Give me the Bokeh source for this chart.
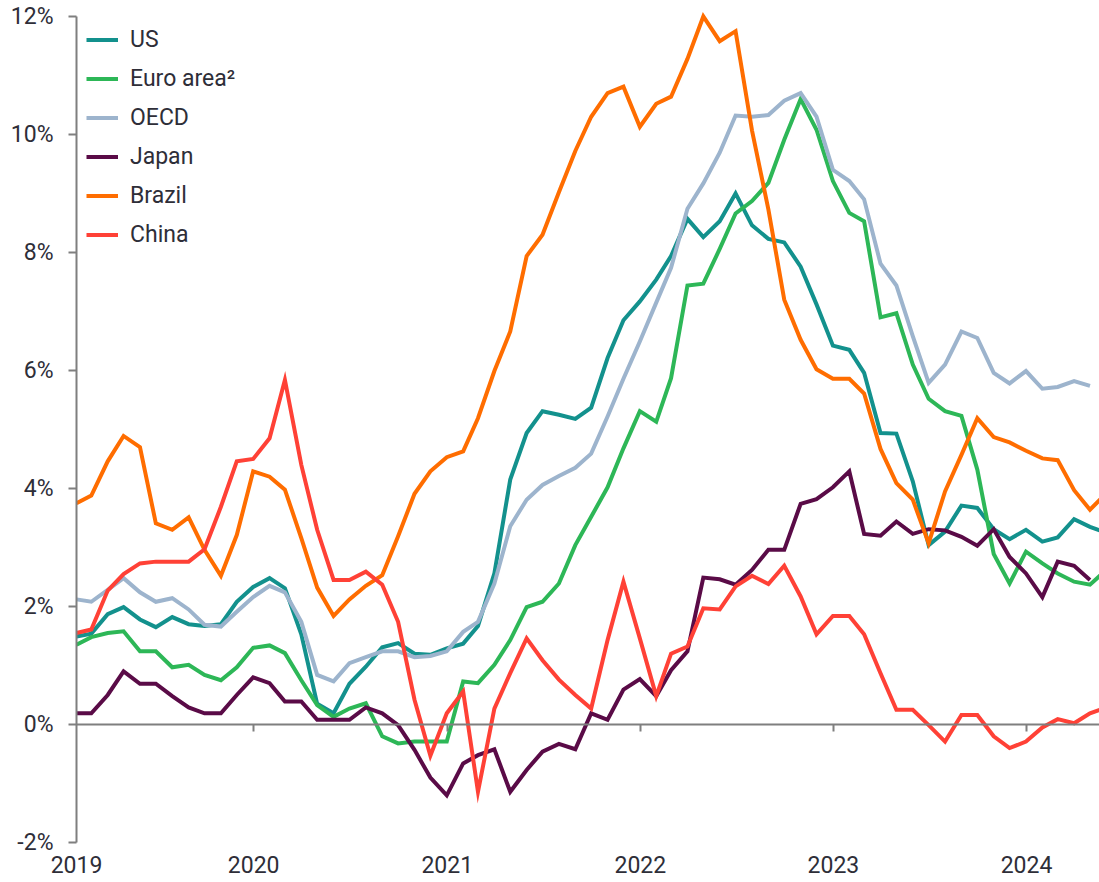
import pandas as pd
from bokeh.plotting import figure
from bokeh.models import Range1d, FixedTicker, LinearAxis, PrintfTickFormatter
from bokeh.embed import file_html
from bokeh.resources import INLINE

# Monthly observations (month-end), Jan 2019 .. May 2024
dates = pd.date_range("2019-01-31", periods=65, freq=pd.offsets.MonthEnd())
origin = pd.Timestamp("2019-01-01")
x_days = [(d - origin).days for d in dates]

us = [1.49, 1.54, 1.87, 1.99, 1.78, 1.65, 1.82, 1.70, 1.67, 1.70, 2.08, 2.33,
      2.48, 2.31, 1.53, 0.35, 0.19, 0.69, 0.98, 1.31, 1.38, 1.20, 1.18, 1.29,
      1.37, 1.67, 2.56, 4.15, 4.94, 5.31, 5.25, 5.18, 5.37, 6.21, 6.85, 7.17,
      7.54, 7.94, 8.57, 8.26, 8.53, 9.00, 8.46, 8.23, 8.17, 7.76, 7.12, 6.42,
      6.35, 5.96, 4.94, 4.93, 4.12, 3.04, 3.27, 3.71, 3.67, 3.31, 3.14, 3.30,
      3.10, 3.17, 3.48, 3.35, 3.25]
euro = [1.35, 1.48, 1.55, 1.58, 1.24, 1.24, 0.97, 1.01, 0.84, 0.75, 0.97, 1.30,
        1.34, 1.21, 0.75, 0.33, 0.13, 0.27, 0.36, -0.20, -0.32, -0.29, -0.29, -0.29,
        0.73, 0.70, 1.01, 1.43, 1.99, 2.08, 2.39, 3.04, 3.52, 4.02, 4.68, 5.31,
        5.13, 5.87, 7.44, 7.47, 8.06, 8.66, 8.87, 9.18, 9.91, 10.60, 10.08, 9.21,
        8.67, 8.53, 6.90, 6.97, 6.10, 5.52, 5.31, 5.23, 4.32, 2.89, 2.39, 2.93,
        2.73, 2.56, 2.42, 2.37, 2.62]
oecd = [2.12, 2.08, 2.28, 2.48, 2.24, 2.08, 2.14, 1.95, 1.69, 1.66, 1.91, 2.16,
        2.35, 2.24, 1.74, 0.84, 0.73, 1.04, 1.14, 1.24, 1.24, 1.14, 1.16, 1.24,
        1.57, 1.74, 2.39, 3.36, 3.81, 4.06, 4.21, 4.35, 4.59, 5.22, 5.86, 6.49,
        7.15, 7.74, 8.74, 9.17, 9.69, 10.32, 10.30, 10.33, 10.57, 10.70, 10.30, 9.40,
        9.21, 8.90, 7.81, 7.44, 6.58, 5.79, 6.10, 6.66, 6.55, 5.96, 5.78, 5.99,
        5.69, 5.72, 5.82, 5.74]
japan = [0.19, 0.19, 0.50, 0.90, 0.69, 0.69, 0.48, 0.29, 0.19, 0.19, 0.50, 0.80,
         0.70, 0.39, 0.39, 0.08, 0.08, 0.08, 0.29, 0.19, -0.01, -0.43, -0.90, -1.20,
         -0.66, -0.52, -0.42, -1.14, -0.77, -0.46, -0.33, -0.42, 0.19, 0.08, 0.59, 0.77,
         0.48, 0.92, 1.24, 2.49, 2.46, 2.37, 2.62, 2.96, 2.96, 3.74, 3.82, 4.02,
         4.29, 3.23, 3.20, 3.44, 3.23, 3.31, 3.29, 3.18, 3.03, 3.31, 2.84, 2.56,
         2.16, 2.76, 2.69, 2.45]
brazil = [3.75, 3.88, 4.46, 4.89, 4.70, 3.41, 3.30, 3.51, 2.96, 2.52, 3.21, 4.29,
          4.20, 3.98, 3.16, 2.32, 1.84, 2.12, 2.35, 2.53, 3.19, 3.91, 4.29, 4.53,
          4.63, 5.19, 5.99, 6.66, 7.94, 8.30, 9.02, 9.72, 10.30, 10.70, 10.81, 10.13,
          10.52, 10.64, 11.28, 12.00, 11.58, 11.75, 10.07, 8.73, 7.20, 6.52, 6.02, 5.86,
          5.86, 5.61, 4.67, 4.09, 3.81, 3.07, 3.95, 4.57, 5.19, 4.87, 4.78, 4.64,
          4.51, 4.48, 3.97, 3.64, 3.92]
china = [1.55, 1.61, 2.27, 2.55, 2.73, 2.76, 2.76, 2.76, 2.97, 3.69, 4.46, 4.50,
         4.85, 5.84, 4.40, 3.30, 2.45, 2.45, 2.59, 2.37, 1.74, 0.42, -0.53, 0.19,
         0.56, -1.14, 0.27, 0.87, 1.46, 1.09, 0.76, 0.50, 0.27, 1.43, 2.42, 1.46,
         0.48, 1.20, 1.32, 1.97, 1.95, 2.34, 2.52, 2.38, 2.69, 2.17, 1.53, 1.84,
         1.84, 1.53, 0.87, 0.25, 0.25, -0.01, -0.29, 0.16, 0.16, -0.20, -0.40, -0.29,
         -0.05, 0.09, 0.02, 0.19, 0.29]

series_names = ["US", "Euro area\u00b2", "OECD", "Japan", "Brazil", "China"]
series_values = [us, euro, oecd, japan, brazil, china]
series_colors = ["#13918d", "#2db757", "#9db4cd", "#5a0b47", "#ff6d00", "#ff4136"]

tick_dates = ["2019-01-31", "2020-01-01", "2021-01-01", "2022-01-01", "2023-01-01", "2024-01-01"]
tick_labels = ["2019", "2020", "2021", "2022", "2023", "2024"]
tick_pos = [(pd.Timestamp(t) - origin).days for t in tick_dates]
y_ticks = [-2, 0, 2, 4, 6, 8, 10, 12]

FONT = "Roboto"
TXT = "#2e2e38"
AX = "#7f7f7f"

p = figure(width=1099, height=882, output_backend="svg", toolbar_location=None,
           x_range=Range1d(30, 1964), y_range=Range1d(-2.0, 12.27),
           min_border_left=76, min_border_right=0, min_border_top=0, min_border_bottom=40)
p.outline_line_color = None
p.xgrid.grid_line_color = None
p.ygrid.grid_line_color = None
p.background_fill_color = "white"
p.border_fill_color = "white"

# y axis
p.yaxis.ticker = FixedTicker(ticks=y_ticks)
p.yaxis.formatter = PrintfTickFormatter(format="%d%%")
p.yaxis.bounds = (-2, 12)
p.yaxis.axis_line_color = AX
p.yaxis.axis_line_width = 2
p.yaxis.major_tick_line_color = AX
p.yaxis.major_tick_line_width = 2
p.yaxis.major_tick_out = 8
p.yaxis.major_tick_in = 0
p.yaxis.minor_tick_line_color = None
p.yaxis.major_label_standoff = 15
p.yaxis.major_label_text_font = FONT
p.yaxis.major_label_text_font_size = "23px"
p.yaxis.major_label_text_color = TXT

# x axis labels (bottom)
p.xaxis.ticker = FixedTicker(ticks=tick_pos)
p.xaxis.major_label_overrides = {pos: lab for pos, lab in zip(tick_pos, tick_labels)}
p.xaxis.axis_line_color = None
p.xaxis.major_tick_line_color = None
p.xaxis.minor_tick_line_color = None
p.xaxis.major_label_standoff = 7
p.xaxis.major_label_text_font = FONT
p.xaxis.major_label_text_font_size = "23px"
p.xaxis.major_label_text_color = TXT

# zero line axis with ticks
zero_axis = LinearAxis(fixed_location=0, ticker=FixedTicker(ticks=tick_pos[1:]))
zero_axis.axis_line_color = AX
zero_axis.axis_line_width = 2
zero_axis.major_tick_line_color = AX
zero_axis.major_tick_line_width = 2
zero_axis.major_tick_out = 7
zero_axis.major_tick_in = 0
zero_axis.minor_tick_line_color = None
zero_axis.major_label_text_font_size = "0px"
zero_axis.major_label_text_color = None
p.add_layout(zero_axis, "below")

for name, vals, col in zip(series_names, series_values, series_colors):
    p.line(x_days[:len(vals)], vals, line_color=col, line_width=4,
           line_join="miter", legend_label=name)

lg = p.legend[0]
lg.location = (10, 588)
lg.margin = 0
lg.padding = 0
lg.spacing = 0
lg.glyph_height = 39
lg.label_height = 39
lg.glyph_width = 32
lg.label_standoff = 12
lg.border_line_color = None
lg.background_fill_alpha = 0
lg.label_text_font = FONT
lg.label_text_font_size = "23px"
lg.label_text_color = TXT

open("out.html", "w").write(file_html(p, INLINE))
